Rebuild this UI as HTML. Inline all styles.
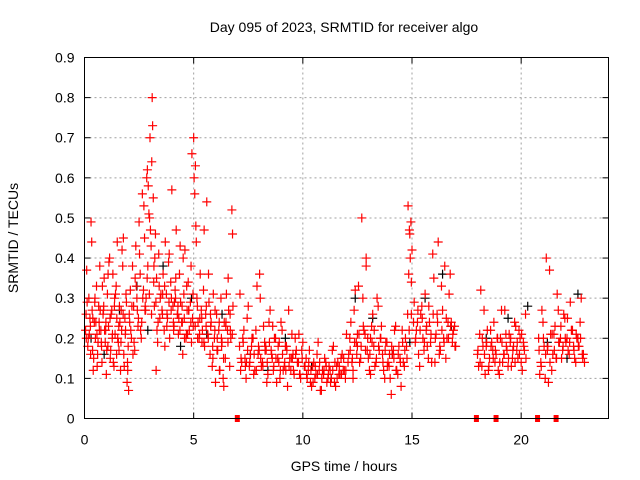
<!DOCTYPE html>
<html><head><meta charset="utf-8"><style>
body{margin:0;background:#fff;}
svg{display:block;font-family:"Liberation Sans",sans-serif;}
</style></head><body>
<svg id="chart" width="640" height="480" viewBox="0 0 640 480">
<text x="344" y="32" font-size="14" text-anchor="middle" fill="#000">Day 095 of 2023, SRMTID for receiver algo</text>
<text x="344" y="471" font-size="14" text-anchor="middle">GPS time / hours</text>
<text transform="translate(18,238) rotate(-90)" font-size="14" text-anchor="middle">SRMTID / TECUs</text>
<g id="grid"></g>
<g id="ticks"></g>
<g id="black-series"></g>
<g id="red-series"></g>
<g id="gaps"></g>
<rect x="84.5" y="57.5" width="524" height="361" fill="none" stroke="#000" stroke-width="1"/>
</svg>
<script>
const xTicks=[0,5,10,15,20];
const yTicks=[0,0.1,0.2,0.3,0.4,0.5,0.6,0.7,0.8,0.9];
const yTickLabels=["0","0.1","0.2","0.3","0.4","0.5","0.6","0.7","0.8","0.9"];
const gapHours=[7.0,17.95,18.85,20.75,21.6];
const redHours=[0.05,0.1,0.15,0.2,0.25,0.3,0.35,0.4,0.45,0.5,0.55,0.6,0.65,0.7,0.75,0.8,0.85,0.9,0.95,1.0,1.05,1.1,1.15,1.2,1.25,1.3,1.35,1.4,1.45,1.5,1.55,1.6,1.65,1.7,1.75,1.8,1.85,1.9,1.95,2.0,
0.12,0.22,0.33,0.42,0.52,0.62,0.72,0.82,0.92,1.02,1.12,1.22,1.32,1.42,1.52,1.62,1.72,1.82,1.92,2.02,
0.08,0.28,0.38,0.48,0.58,0.68,0.78,0.88,0.98,1.08,1.18,1.28,1.38,1.48,1.58,1.68,1.78,1.88,1.98,
2.05,2.1,2.15,2.2,2.25,2.3,2.35,2.4,2.45,2.5,2.55,2.6,2.65,2.7,2.75,2.8,2.85,2.9,2.95,3.0,3.05,3.1,3.15,3.2,3.25,3.3,3.35,3.4,3.45,3.5,
2.12,2.22,2.32,2.42,2.52,2.62,2.72,2.82,2.92,3.02,3.12,3.22,3.32,3.42,2.88,2.98,3.08,3.18,2.78,3.28,
3.55,3.6,3.65,3.7,3.75,3.8,3.85,3.9,3.95,4.0,4.05,4.1,4.15,4.2,4.25,4.3,4.35,4.4,4.45,4.5,4.55,4.6,4.65,4.7,4.75,4.8,4.85,4.9,4.95,5.0,
3.58,3.68,3.78,3.88,3.98,4.08,4.18,4.28,4.38,4.48,4.58,4.68,4.78,4.88,4.98,4.12,4.32,4.52,4.72,4.92,
5.05,5.1,5.15,5.2,5.25,5.3,5.35,5.4,5.45,5.5,5.55,5.6,5.65,5.7,5.75,5.8,5.85,5.9,5.95,6.0,6.05,6.1,6.15,6.2,6.25,6.3,6.35,6.4,6.45,6.5,6.55,6.6,6.65,6.7,6.75,6.8,
5.08,5.18,5.28,5.38,5.48,5.58,5.68,5.78,5.88,5.98,6.08,6.18,6.28,6.38,6.48,6.58,6.68,6.78,5.02,5.12,
7.1,7.2,7.3,7.4,7.5,7.6,7.7,7.8,7.9,8.0,8.1,8.2,8.3,8.4,8.5,8.6,8.7,8.8,8.9,9.0,9.1,9.2,9.3,9.4,9.5,9.6,9.7,9.8,9.9,10.0,
7.15,7.25,7.35,7.45,7.55,7.65,7.75,7.85,7.95,8.05,8.15,8.25,8.35,8.45,8.55,8.65,8.75,8.85,8.95,9.05,9.15,9.25,9.35,9.45,9.55,9.65,9.75,9.85,9.95,
7.12,7.42,7.72,8.02,8.32,8.62,8.92,9.22,9.52,9.82,
10.1,10.2,10.3,10.4,10.5,10.6,10.7,10.8,10.9,11.0,11.1,11.2,11.3,11.4,11.5,11.6,11.7,11.8,11.9,12.0,
10.15,10.25,10.35,10.45,10.55,10.65,10.75,10.85,10.95,11.05,11.15,11.25,11.35,11.45,11.55,11.65,11.75,11.85,11.95,
12.1,12.2,12.3,12.4,12.5,12.6,12.7,12.8,12.9,13.0,13.1,13.2,13.3,13.4,13.5,13.6,13.7,13.8,13.9,14.0,14.1,14.2,14.3,14.4,14.5,14.6,14.7,14.8,14.9,15.0,
12.15,12.25,12.35,12.45,12.55,12.65,12.75,12.85,12.95,13.05,13.15,13.25,13.35,13.45,13.55,13.65,13.75,13.85,13.95,14.05,14.15,14.25,14.35,14.45,14.55,14.65,14.75,14.85,14.95,
12.3,12.5,12.9,13.1,14.82,14.88,14.92,14.97,
15.1,15.2,15.3,15.4,15.5,15.6,15.7,15.8,15.9,16.0,16.1,16.2,16.3,16.4,16.5,16.6,16.7,16.8,16.9,17.0,
15.15,15.25,15.35,15.45,15.55,15.65,15.75,15.85,15.95,16.05,16.15,16.25,16.35,16.45,16.55,16.65,16.75,16.85,16.95,
18.0,18.1,18.2,18.3,18.4,18.5,18.6,18.7,18.8,18.9,19.0,19.1,19.2,19.3,19.4,19.5,19.6,19.7,19.8,19.9,20.0,20.1,20.2,
18.05,18.15,18.25,18.35,18.45,18.55,18.65,18.75,18.85,18.95,19.05,19.15,19.25,19.35,19.45,19.55,19.65,19.75,19.85,19.95,20.05,20.15,
20.8,20.9,21.0,21.1,21.2,21.3,21.4,21.5,21.6,21.7,21.8,21.9,22.0,22.1,22.2,22.3,22.4,22.5,22.6,22.7,22.8,22.9,
20.85,20.95,21.05,21.15,21.25,21.35,21.45,21.55,21.65,21.75,21.85,21.95,22.05,22.15,22.25,22.35,22.45,22.55,22.65,22.75,22.85];
const redTec=[0.22,0.37,0.18,0.3,0.25,0.49,0.27,0.12,0.24,0.2,0.33,0.16,0.28,0.38,0.22,0.14,0.26,0.35,0.19,0.11,0.31,0.23,0.4,0.17,0.27,0.36,0.13,0.21,0.33,0.44,0.19,0.28,0.12,0.22,0.38,0.16,0.25,0.31,0.09,0.18,
0.29,0.21,0.44,0.15,0.24,0.19,0.27,0.33,0.22,0.17,0.39,0.26,0.14,0.31,0.2,0.24,0.42,0.13,0.29,0.07,
0.2,0.16,0.25,0.3,0.13,0.22,0.18,0.28,0.24,0.36,0.15,0.21,0.3,0.25,0.17,0.27,0.45,0.22,0.12,
0.26,0.32,0.2,0.38,0.28,0.17,0.43,0.3,0.23,0.49,0.36,0.2,0.56,0.32,0.45,0.27,0.6,0.38,0.51,0.7,0.43,0.8,0.55,0.28,0.46,0.35,0.19,0.41,0.25,0.31,
0.22,0.16,0.35,0.27,0.41,0.24,0.53,0.3,0.58,0.47,0.73,0.4,0.22,0.33,0.62,0.5,0.64,0.38,0.28,0.12,
0.27,0.36,0.22,0.44,0.31,0.25,0.39,0.2,0.34,0.57,0.28,0.23,0.32,0.47,0.26,0.21,0.36,0.29,0.24,0.16,0.31,0.42,0.2,0.27,0.34,0.22,0.29,0.19,0.25,0.7,
0.31,0.18,0.26,0.41,0.3,0.22,0.35,0.28,0.43,0.24,0.2,0.33,0.27,0.38,0.23,0.29,0.25,0.4,0.21,0.66,
0.56,0.48,0.3,0.24,0.2,0.36,0.27,0.22,0.32,0.18,0.26,0.54,0.21,0.29,0.16,0.24,0.13,0.31,0.2,0.09,0.26,0.17,0.22,0.12,0.3,0.19,0.1,0.24,0.15,0.31,0.22,0.27,0.13,0.2,0.52,0.28,
0.63,0.2,0.25,0.19,0.47,0.28,0.36,0.23,0.15,0.27,0.2,0.12,0.18,0.08,0.24,0.35,0.22,0.46,0.6,0.44,
0.18,0.14,0.22,0.1,0.28,0.16,0.2,0.12,0.33,0.17,0.13,0.23,0.18,0.11,0.27,0.15,0.2,0.09,0.14,0.24,0.12,0.18,0.08,0.15,0.21,0.11,0.17,0.14,0.1,0.19,
0.12,0.2,0.15,0.25,0.13,0.18,0.11,0.22,0.16,0.3,0.14,0.19,0.09,0.24,0.17,0.12,0.2,0.15,0.1,0.22,0.13,0.18,0.27,0.12,0.16,0.2,0.14,0.11,0.17,
0.31,0.14,0.2,0.36,0.17,0.23,0.19,0.12,0.15,0.21,
0.13,0.1,0.17,0.08,0.14,0.11,0.19,0.07,0.12,0.15,0.09,0.13,0.1,0.18,0.08,0.14,0.11,0.16,0.12,0.21,
0.15,0.12,0.09,0.13,0.1,0.16,0.12,0.07,0.11,0.14,0.1,0.12,0.17,0.09,0.13,0.11,0.15,0.12,0.1,
0.16,0.24,0.12,0.32,0.18,0.14,0.5,0.22,0.38,0.15,0.2,0.26,0.13,0.3,0.17,0.23,0.12,0.19,0.14,0.1,0.16,0.22,0.12,0.18,0.08,0.14,0.2,0.26,0.46,0.42,
0.2,0.14,0.27,0.19,0.33,0.15,0.3,0.21,0.17,0.12,0.23,0.18,0.14,0.28,0.2,0.16,0.1,0.19,0.13,0.06,0.17,0.23,0.11,0.15,0.22,0.13,0.18,0.36,0.49,
0.1,0.21,0.4,0.11,0.53,0.47,0.4,0.34,
0.29,0.22,0.16,0.26,0.2,0.31,0.18,0.24,0.14,0.35,0.21,0.44,0.17,0.27,0.38,0.2,0.31,0.24,0.22,0.18,
0.19,0.24,0.13,0.28,0.17,0.22,0.15,0.19,0.41,0.14,0.26,0.16,0.33,0.2,0.15,0.24,0.36,0.19,0.23,
0.16,0.21,0.13,0.27,0.18,0.12,0.22,0.17,0.14,0.2,0.11,0.27,0.16,0.21,0.13,0.19,0.15,0.24,0.17,0.22,0.14,0.19,0.26,
0.13,0.32,0.18,0.11,0.22,0.15,0.19,0.24,0.16,0.12,0.2,0.14,0.27,0.17,0.21,0.13,0.18,0.23,0.15,0.2,0.12,0.17,
0.2,0.14,0.24,0.1,0.17,0.37,0.12,0.21,0.15,0.27,0.2,0.17,0.25,0.2,0.16,0.22,0.18,0.14,0.2,0.24,0.16,0.14,
0.11,0.27,0.18,0.4,0.09,0.21,0.16,0.23,0.31,0.19,0.15,0.26,0.19,0.17,0.29,0.22,0.15,0.2,0.18,0.3,0.16];
const redHours2=[0.07,0.17,0.27,0.37,0.47,0.57,0.67,0.77,0.87,0.97,1.07,1.17,1.27,1.37,1.47,1.57,1.67,1.77,1.87,1.97,
2.07,2.17,2.27,2.37,2.47,2.57,2.67,2.77,2.87,2.97,3.07,3.17,3.27,3.37,3.47,3.57,3.67,3.77,3.87,3.97,
4.07,4.17,4.27,4.37,4.47,4.57,4.67,4.77,4.87,4.97,5.07,5.17,5.27,5.37,5.47,5.57,5.67,5.77,5.87,5.97,
6.07,6.17,6.27,6.37,6.47,6.57,6.67,6.77,7.17,7.27,7.37,7.47,7.57,7.67,7.77,7.87,7.97,8.07,8.17,8.27,
8.37,8.47,8.57,8.67,8.77,8.87,8.97,9.07,9.17,9.27,9.37,9.47,9.57,9.67,9.77,9.87,9.97,10.07,10.17,10.27,
10.37,10.47,10.57,10.67,10.77,10.87,10.97,11.07,11.17,11.27,11.37,11.47,11.57,11.67,11.77,11.87,11.97,12.07,12.17,12.27,
12.37,12.47,12.57,12.67,12.77,12.87,12.97,13.07,13.17,13.27,13.37,13.47,13.57,13.67,13.77,13.87,13.97,14.07,14.17,14.27,
14.37,14.47,14.57,14.67,14.77,14.87,14.97,15.07,15.17,15.27,15.37,15.47,15.57,15.67,15.77,15.87,15.97,16.07,16.17,16.27,
16.37,16.47,16.57,16.67,16.77,16.87,16.97,18.02,18.12,18.22,18.32,18.42,18.52,18.62,18.72,18.82,18.92,19.02,19.12,19.22,
19.32,19.42,19.52,19.62,19.72,19.82,19.92,20.02,20.12,20.22,20.82,20.92,21.02,21.12,21.22,21.32,21.42,21.52,21.62,21.72,
21.82,21.92,22.02,22.12,22.22,22.32,22.42,22.52,22.62,22.72,22.82];
const redTec2=[0.26,0.2,0.23,0.17,0.29,0.21,0.24,0.19,0.27,0.22,0.18,0.25,0.2,0.28,0.16,0.23,0.19,0.26,0.21,0.14,
0.24,0.28,0.19,0.33,0.25,0.22,0.3,0.27,0.35,0.31,0.26,0.34,0.29,0.24,0.3,0.26,0.33,0.23,0.29,0.27,
0.24,0.3,0.26,0.22,0.28,0.25,0.21,0.27,0.24,0.31,0.23,0.28,0.21,0.25,0.19,0.23,0.2,0.26,0.18,0.22,
0.17,0.24,0.2,0.15,0.23,0.19,0.26,0.21,0.15,0.19,0.13,0.17,0.14,0.2,0.16,0.12,0.18,0.15,0.13,0.17,
0.14,0.19,0.16,0.13,0.15,0.18,0.12,0.16,0.14,0.17,0.13,0.15,0.12,0.16,0.14,0.11,0.15,0.13,0.11,0.14,
0.12,0.09,0.13,0.11,0.14,0.1,0.12,0.13,0.11,0.09,0.12,0.14,0.1,0.13,0.11,0.15,0.12,0.14,0.17,0.15,
0.19,0.16,0.21,0.18,0.23,0.17,0.2,0.16,0.19,0.22,0.15,0.18,0.2,0.14,0.17,0.13,0.16,0.18,0.15,0.12,
0.16,0.14,0.19,0.17,0.15,0.22,0.26,0.24,0.2,0.27,0.22,0.25,0.19,0.23,0.28,0.21,0.26,0.2,0.24,0.18,
0.22,0.19,0.25,0.2,0.23,0.21,0.18,0.17,0.14,0.2,0.16,0.19,0.13,0.18,0.15,0.17,0.2,0.14,0.19,0.16,
0.18,0.15,0.2,0.17,0.14,0.19,0.16,0.21,0.18,0.15,0.17,0.13,0.2,0.16,0.18,0.14,0.21,0.17,0.15,0.19,
0.23,0.18,0.2,0.25,0.19,0.22,0.17,0.21,0.18,0.2,0.15];
const blackHours=[0.3,0.9,1.6,2.4,2.9,3.6,4.4,4.9,5.6,6.3,7.6,8.4,9.2,10.4,11.3,12.4,13.2,14.1,14.9,15.6,16.4,16.8,18.4,19.4,20.3,21.2,22.1,22.6];
const blackTec=[0.2,0.16,0.27,0.33,0.22,0.38,0.18,0.3,0.21,0.26,0.16,0.12,0.2,0.13,0.1,0.3,0.25,0.16,0.19,0.3,0.36,0.23,0.2,0.25,0.28,0.19,0.15,0.31];

const X0=84.5,PW=524,Y0=418.5,PH=361;
const xs=h=>X0+h/24*PW;
const ys=v=>Y0-v/0.9*PH;
const NS='http://www.w3.org/2000/svg';
function mk(tag,attrs,parent){const e=document.createElementNS(NS,tag);for(const k in attrs)e.setAttribute(k,attrs[k]);parent.appendChild(e);return e;}
const grid=document.getElementById('grid'),ticks=document.getElementById('ticks');
yTicks.forEach((v,i)=>{
  const y=ys(v);
  if(i>0&&i<yTicks.length-1){const l=mk('line',{x1:X0,x2:X0+PW,y1:y,y2:y,stroke:'#a0a0a0','stroke-dasharray':'2,3','stroke-width':1},grid);
  
  }
  mk('line',{x1:X0,x2:X0+6,y1:y,y2:y,stroke:'#000'},ticks);
  mk('line',{x1:X0+PW-6,x2:X0+PW,y1:y,y2:y,stroke:'#000'},ticks);
  const t=mk('text',{x:X0-10,y:y+5,'font-size':14,'text-anchor':'end'},ticks);
  t.textContent=yTickLabels[i];
  
  
});
xTicks.forEach(h=>{
  const x=xs(h);
  if(h>0){const l=mk('line',{x1:x,x2:x,y1:Y0-PH,y2:Y0,stroke:'#a0a0a0','stroke-dasharray':'2,3','stroke-width':1},grid);
  
  }
  mk('line',{x1:x,x2:x,y1:Y0,y2:Y0-6,stroke:'#000'},ticks);
  mk('line',{x1:x,x2:x,y1:Y0-PH,y2:Y0-PH+6,stroke:'#000'},ticks);
  const t=mk('text',{x:x,y:Y0+26,'font-size':14,'text-anchor':'middle'},ticks);
  t.textContent=String(h);
  
  
});
function plus(g,h,v,color,name){
  const x=xs(h),y=ys(v);
  const p=mk('path',{d:`M${x-4.5},${y}H${x+4.5}M${x},${y-4.5}V${y+4.5}`,stroke:color,'stroke-width':1.2,fill:'none'},g);
  
  
}
const bg=document.getElementById('black-series');
blackHours.forEach((h,i)=>plus(bg,h,blackTec[i],'#000','black-point'));
const rg=document.getElementById('red-series');
redHours.forEach((h,i)=>plus(rg,h,redTec[i],'#ff0000','red-point'));
redHours2.forEach((h,i)=>plus(rg,h,redTec2[i],'#ff0000','red-point'));
const gg=document.getElementById('gaps');
gapHours.forEach(h=>{
  const r=mk('rect',{x:xs(h)-2.5,y:Y0-3.5,width:5,height:7,fill:'#ff0000'},gg);
  
  
});
</script>
</body></html>
